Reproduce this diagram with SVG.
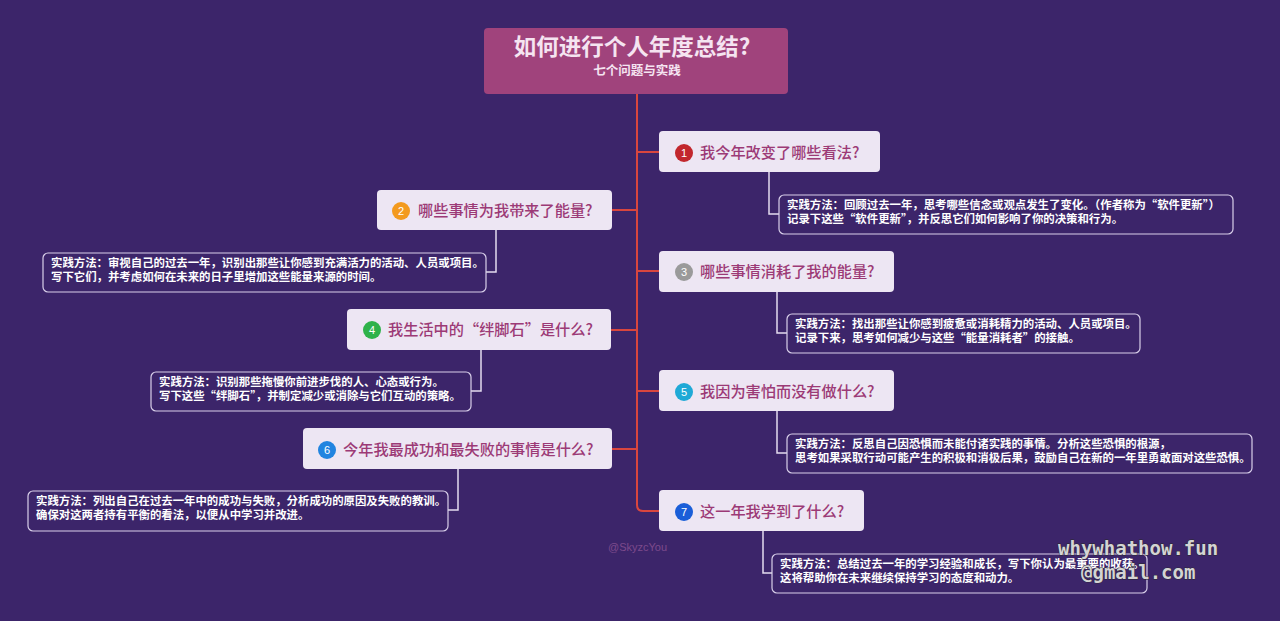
<svg xmlns="http://www.w3.org/2000/svg" width="1280" height="621" viewBox="0 0 1280 621">
<style>
.bg{fill:#3c256a}
.node rect{fill:#ede6f3}
.nt{font-family:"Noto Sans CJK SC","Liberation Sans",sans-serif;font-size:15.2px;font-weight:500;fill:#9c3a76}
.num{font-family:"Liberation Sans",sans-serif;font-size:11px;fill:#fff;text-anchor:middle}
.note rect{fill:#3c256a;stroke:#d9d0ea;stroke-width:1.2}
.note text{font-family:"Noto Sans CJK SC","Liberation Sans",sans-serif;font-size:11.4px;font-weight:bold;fill:#fff}
.trunk{fill:none;stroke:#d9463e;stroke-width:2}
.sub{fill:none;stroke:#e4dcef;stroke-width:1.5}
.wm{font-family:"DejaVu Sans Mono",monospace;font-size:19px;font-weight:bold;fill:#d4d4d4;stroke:#2a2a2a;stroke-width:0.8;paint-order:stroke}
</style>
<rect class="bg" x="0" y="0" width="1280" height="621"/>

<g id="connectors">
<path class="trunk" d="M637 94 V505 Q637 511 643 511 H659"/>
<path class="trunk" d="M637 152 H659 M612 210 H637 M637 271 H659 M611 330 H637 M637 391 H659 M612 449 H637"/>
<path class="sub" d="M769 172 V214 H779"/>
<path class="sub" d="M496 230 V272 H486"/>
<path class="sub" d="M777 292 V333 H787"/>
<path class="sub" d="M481 350 V391 H471"/>
<path class="sub" d="M777 411 V453 H787"/>
<path class="sub" d="M458 469 V510 H448"/>
<path class="sub" d="M763 531 V573 H772"/>
</g>

<g id="title">
<rect x="484" y="28" width="304" height="66" rx="4" fill="#a0437c"/>
<text x="632" y="55" text-anchor="middle" font-family="Noto Sans CJK SC,Liberation Sans,sans-serif" font-size="22.5" font-weight="bold" fill="#f5e4f1">如何进行个人年度总结?</text>
<text x="637" y="75" text-anchor="middle" font-family="Noto Sans CJK SC,Liberation Sans,sans-serif" font-size="12.5" font-weight="bold" fill="#f5e4f1">七个问题与实践</text>
</g>

<g id="node1" class="node">
<rect x="659" y="131" width="221" height="41" rx="4"/>
<circle cx="684" cy="153" r="9" fill="#c2272d"/><text class="num" x="684" y="157">1</text>
<text class="nt" x="700" y="158">我今年改变了哪些看法?</text>
</g>
<g id="note1" class="note">
<rect x="779" y="195" width="454" height="39" rx="5"/>
<text x="787" y="209">实践方法：回顾过去一年，思考哪些信念或观点发生了变化。（作者称为“软件更新”）</text>
<text x="787" y="223">记录下这些“软件更新”，并反思它们如何影响了你的决策和行为。</text>
</g>

<g id="node2" class="node">
<rect x="377" y="190" width="235" height="40" rx="4"/>
<circle cx="401" cy="211" r="9" fill="#f39a1e"/><text class="num" x="401" y="215">2</text>
<text class="nt" x="418" y="216">哪些事情为我带来了能量?</text>
</g>
<g id="note2" class="note">
<rect x="43" y="253" width="443" height="39" rx="5"/>
<text x="51" y="267">实践方法：审视自己的过去一年，识别出那些让你感到充满活力的活动、人员或项目。</text>
<text x="51" y="281">写下它们，并考虑如何在未来的日子里增加这些能量来源的时间。</text>
</g>

<g id="node3" class="node">
<rect x="659" y="251" width="235" height="41" rx="4"/>
<circle cx="684" cy="272" r="9" fill="#9a9a9a"/><text class="num" x="684" y="276">3</text>
<text class="nt" x="700" y="277">哪些事情消耗了我的能量?</text>
</g>
<g id="note3" class="note">
<rect x="787" y="314" width="353" height="39" rx="5"/>
<text x="795" y="328">实践方法：找出那些让你感到疲惫或消耗精力的活动、人员或项目。</text>
<text x="795" y="342">记录下来，思考如何减少与这些“能量消耗者”的接触。</text>
</g>

<g id="node4" class="node">
<rect x="347" y="309" width="264" height="41" rx="4"/>
<circle cx="372" cy="330" r="9" fill="#2fb24a"/><text class="num" x="372" y="334">4</text>
<text class="nt" x="388" y="335">我生活中的“绊脚石”是什么?</text>
</g>
<g id="note4" class="note">
<rect x="151" y="372" width="320" height="39" rx="5"/>
<text x="159" y="386">实践方法：识别那些拖慢你前进步伐的人、心态或行为。</text>
<text x="159" y="400">写下这些“绊脚石”，并制定减少或消除与它们互动的策略。</text>
</g>

<g id="node5" class="node">
<rect x="659" y="370" width="235" height="41" rx="4"/>
<circle cx="684" cy="392" r="9" fill="#1fa9d6"/><text class="num" x="684" y="396">5</text>
<text class="nt" x="700" y="397">我因为害怕而没有做什么?</text>
</g>
<g id="note5" class="note">
<rect x="787" y="434" width="465" height="39" rx="5"/>
<text x="795" y="448">实践方法：反思自己因恐惧而未能付诸实践的事情。分析这些恐惧的根源，</text>
<text x="795" y="462">思考如果采取行动可能产生的积极和消极后果，鼓励自己在新的一年里勇敢面对这些恐惧。</text>
</g>

<g id="node6" class="node">
<rect x="303" y="428" width="309" height="41" rx="4"/>
<circle cx="327" cy="450" r="9" fill="#2184e0"/><text class="num" x="327" y="454">6</text>
<text class="nt" x="343" y="455">今年我最成功和最失败的事情是什么?</text>
</g>
<g id="note6" class="note">
<rect x="28" y="491" width="420" height="40" rx="5"/>
<text x="36" y="505">实践方法：列出自己在过去一年中的成功与失败，分析成功的原因及失败的教训。</text>
<text x="36" y="519">确保对这两者持有平衡的看法，以便从中学习并改进。</text>
</g>

<g id="node7" class="node">
<rect x="659" y="490" width="205" height="41" rx="4"/>
<circle cx="684" cy="512" r="9" fill="#1a5ed8"/><text class="num" x="684" y="516">7</text>
<text class="nt" x="700" y="517">这一年我学到了什么?</text>
</g>
<g id="note7" class="note">
<rect x="772" y="554" width="375" height="39" rx="5"/>
<text x="780" y="568">实践方法：总结过去一年的学习经验和成长，写下你认为最重要的收获。</text>
<text x="780" y="582">这将帮助你在未来继续保持学习的态度和动力。</text>
</g>

<text x="608" y="551" font-family="Liberation Sans,sans-serif" font-size="11" fill="#7d4a8c">@SkyzcYou</text>
<text class="wm" x="1058" y="555">whywhathow.fun</text>
<text class="wm" x="1081" y="579">@gmail.com</text>
</svg>
